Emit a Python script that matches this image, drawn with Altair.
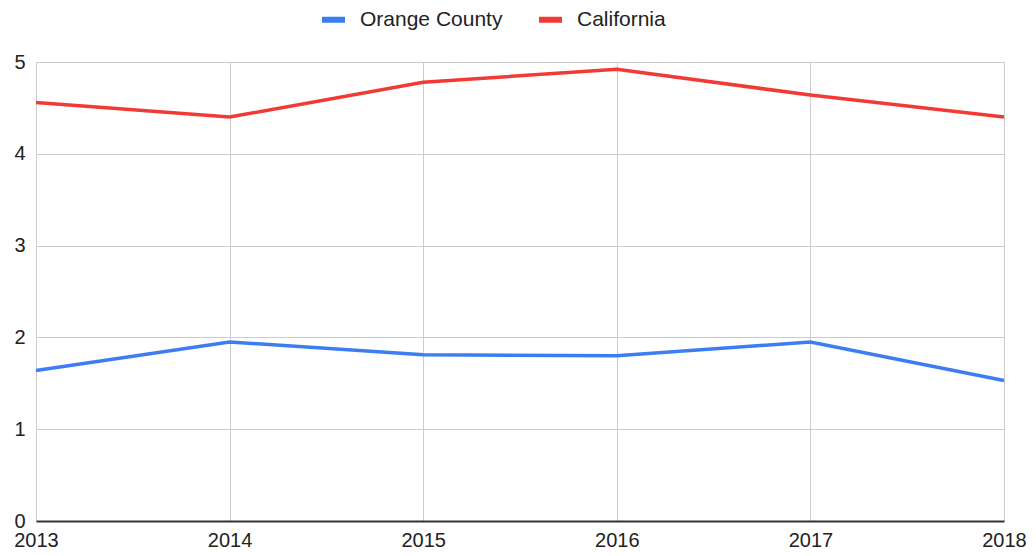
import altair as alt
import pandas as pd

years = [2013, 2014, 2015, 2016, 2017, 2018]
orange_county = [1.64, 1.95, 1.81, 1.80, 1.95, 1.53]
california = [4.56, 4.40, 4.78, 4.92, 4.64, 4.40]
series = ["Orange County", "California"]
colors = ["#3d7df2", "#f23a35"]

rows = []
for y, v in zip(years, orange_county):
    rows.append({"Year": y, "Value": v, "Series": series[0]})
for y, v in zip(years, california):
    rows.append({"Year": y, "Value": v, "Series": series[1]})
df = pd.DataFrame(rows)

FONT = "Liberation Sans"

chart = alt.Chart(df).mark_line(strokeWidth=3.5).encode(
    x=alt.X("Year:Q", scale=alt.Scale(domain=[2013, 2018], nice=False, zero=False),
            axis=alt.Axis(values=years, format="d", title=None, labelFlush=False,
                          labelFontSize=20, labelFont=FONT, labelColor="#222",
                          grid=True, gridColor="#cccccc", ticks=False,
                          domainColor="#333", domainWidth=2, labelPadding=9)),
    y=alt.Y("Value:Q", scale=alt.Scale(domain=[0, 5], nice=False),
            axis=alt.Axis(values=[0, 1, 2, 3, 4, 5], title=None, labelFontSize=20,
                          labelFont=FONT, labelColor="#222", grid=True,
                          gridColor="#cccccc", ticks=False, domain=False,
                          labelPadding=11)),
    color=alt.Color("Series:N", scale=alt.Scale(domain=series, range=colors),
                    sort=series,
                    legend=alt.Legend(orient="none", legendX=283, legendY=-57,
                                      direction="horizontal", title=None,
                                      symbolType="stroke", symbolStrokeWidth=6,
                                      symbolSize=529, labelFontSize=21,
                                      labelFont=FONT, labelColor="#222",
                                      columnPadding=24, labelOffset=12)),
).properties(
    width=968, height=459,
    autosize=alt.AutoSizeParams(type="none"),
    padding={"left": 28, "top": 54, "right": 24, "bottom": 30},
).configure_view(stroke=None)

chart.save("out.html", embed_options={"renderer": "svg", "actions": False})
